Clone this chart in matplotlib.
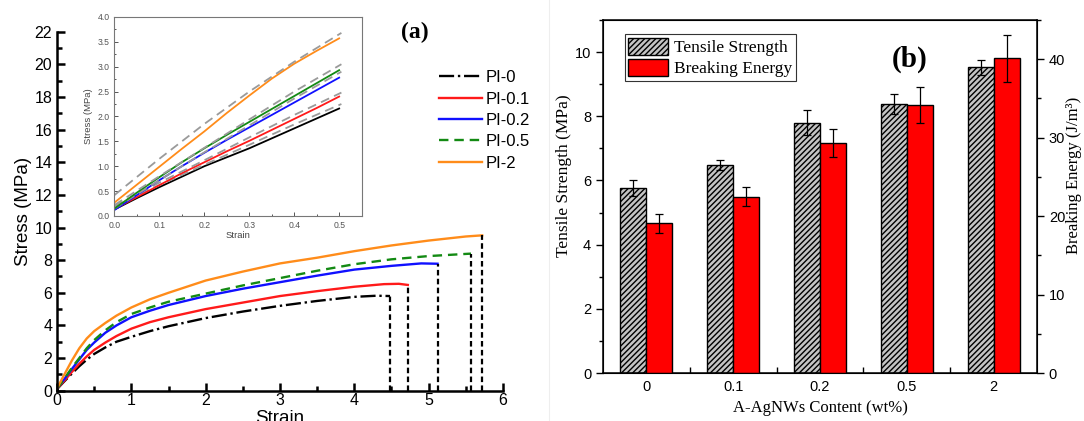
import matplotlib
matplotlib.use("Agg")
import numpy as np
from matplotlib import pyplot as plt
from matplotlib.lines import Line2D
from matplotlib.ticker import MultipleLocator, FixedLocator

# ---- (a) stress-strain curves ----
labels_a = ["PI-0", "PI-0.1", "PI-0.2", "PI-0.5", "PI-2"]

strain_pi0 = [0, 0.1, 0.2, 0.3, 0.4, 0.5, 0.65, 0.8, 1, 1.25, 1.5, 2, 2.5, 3, 3.5, 4, 4.3, 4.48]
stress_pi0 = [0.1, 0.58, 1.05, 1.5, 1.9, 2.25, 2.65, 3.0, 3.3, 3.65, 3.95, 4.45, 4.85, 5.2, 5.5, 5.75, 5.82, 5.8]

strain_pi01 = [0, 0.1, 0.2, 0.3, 0.4, 0.5, 0.65, 0.8, 1, 1.25, 1.5, 2, 2.5, 3, 3.5, 4, 4.4, 4.6, 4.72]
stress_pi01 = [0.1, 0.62, 1.15, 1.65, 2.1, 2.5, 2.95, 3.35, 3.8, 4.2, 4.5, 5.0, 5.4, 5.8, 6.1, 6.37, 6.53, 6.55, 6.48]

strain_pi02 = [0, 0.1, 0.2, 0.3, 0.4, 0.5, 0.65, 0.8, 1, 1.25, 1.5, 2, 2.5, 3, 3.5, 4, 4.5, 4.9, 5.12]
stress_pi02 = [0.12, 0.72, 1.33, 1.92, 2.5, 2.95, 3.55, 4.0, 4.5, 4.9, 5.25, 5.8, 6.25, 6.65, 7.05, 7.42, 7.65, 7.8, 7.78]

strain_pi05 = [0, 0.1, 0.2, 0.3, 0.4, 0.5, 0.65, 0.8, 1, 1.25, 1.5, 2, 2.5, 3, 3.5, 4, 4.5, 5, 5.57]
stress_pi05 = [0.12, 0.75, 1.4, 2.0, 2.6, 3.1, 3.7, 4.2, 4.7, 5.1, 5.45, 5.95, 6.45, 6.9, 7.35, 7.75, 8.05, 8.25, 8.4]

strain_pi2 = [0, 0.1, 0.2, 0.3, 0.4, 0.5, 0.65, 0.8, 1, 1.25, 1.5, 2, 2.5, 3, 3.5, 4, 4.5, 5, 5.5, 5.72]
stress_pi2 = [0.15, 1.0, 1.85, 2.6, 3.2, 3.65, 4.15, 4.6, 5.1, 5.6, 6.0, 6.75, 7.3, 7.8, 8.15, 8.55, 8.9, 9.2, 9.45, 9.52]

# inset (small strain)
inset_strain = [0, 0.05, 0.1, 0.15, 0.2, 0.25, 0.3, 0.35, 0.4, 0.45, 0.5]
inset_pi0 = [0.13, 0.36, 0.58, 0.79, 1.0, 1.18, 1.36, 1.56, 1.76, 1.96, 2.16]
inset_pi01 = [0.14, 0.38, 0.62, 0.86, 1.08, 1.3, 1.51, 1.73, 1.95, 2.17, 2.4]
inset_pi02 = [0.12, 0.42, 0.72, 1.0, 1.27, 1.53, 1.78, 2.03, 2.28, 2.53, 2.78]
inset_pi05 = [0.15, 0.47, 0.78, 1.08, 1.36, 1.63, 1.89, 2.15, 2.41, 2.67, 2.93]
inset_pi2 = [0.27, 0.63, 0.99, 1.35, 1.7, 2.07, 2.42, 2.76, 3.06, 3.32, 3.57]

fit_strain = [0, 0.1, 0.2, 0.3, 0.4, 0.505]
fit_pi0 = [0.2, 0.62, 1.03, 1.43, 1.84, 2.25]
fit_pi01 = [0.2, 0.67, 1.12, 1.58, 2.03, 2.48]
fit_pi02 = [0.15, 0.72, 1.28, 1.82, 2.36, 2.9]
fit_pi05 = [0.22, 0.8, 1.37, 1.94, 2.5, 3.05]
fit_pi2 = [0.42, 1.15, 1.85, 2.5, 3.1, 3.68]

# ---- (b) bar chart ----
content = ["0", "0.1", "0.2", "0.5", "2"]
tensile = [5.76, 6.48, 7.8, 8.37, 9.52]
tensile_err = [0.24, 0.15, 0.38, 0.31, 0.22]
energy = [19.1, 22.5, 29.3, 34.2, 40.1]
energy_err = [1.2, 1.15, 1.8, 2.3, 2.95]

colors = ["black", "#ff1a1a", "#1010ff", "#138a13", "#ff8c1a"]
styles = ["-.", "-", "-", (0, (4, 2.5)), "-"]

sans = ["Liberation Sans", "DejaVu Sans"]
serif = ["Liberation Serif", "DejaVu Serif"]
plt.rcParams["font.family"] = sans

fig = plt.figure(figsize=(10.84, 4.21), dpi=100)

# panel (a)
ax = fig.add_axes([0.0526, 0.072, 0.4114, 0.8527])
main_x = [strain_pi0, strain_pi01, strain_pi02, strain_pi05, strain_pi2]
main_y = [stress_pi0, stress_pi01, stress_pi02, stress_pi05, stress_pi2]
for xs, ys, c, ls, lab in zip(main_x, main_y, colors, styles, labels_a):
    ax.plot(xs, ys, color=c, linestyle=ls, lw=1.7, label=lab)
    ax.vlines(xs[-1], 0, ys[-1], colors="black", linestyles=(0, (2.5, 1.5)), lw=1.6)
ax.set_xlim(0, 6)
ax.set_ylim(0, 22)
ax.xaxis.set_major_locator(MultipleLocator(1))
ax.xaxis.set_minor_locator(MultipleLocator(0.5))
ax.yaxis.set_major_locator(MultipleLocator(2))
ax.yaxis.set_minor_locator(MultipleLocator(1))
ax.tick_params(which="both", direction="in", width=1.8, labelsize=11.5)
ax.tick_params(which="major", length=6)
ax.tick_params(which="minor", length=3.5)
ax.tick_params(axis="x", pad=2)
for s in ["top", "right"]:
    ax.spines[s].set_visible(False)
for s in ["left", "bottom"]:
    ax.spines[s].set_linewidth(1.8)
ax.set_ylabel("Stress (MPa)", fontsize=13.5, labelpad=2)
ax.set_xlabel("Strain", fontsize=13.5, labelpad=1)
ax.legend(loc="upper left", bbox_to_anchor=(0.397, 0.853), bbox_transform=fig.transFigure,
          frameon=False, fontsize=12, handlelength=2.6, handletextpad=0.2, labelspacing=0.38,
          borderpad=0)

fig.text(0.383, 0.922, "(a)", family=serif, fontweight="bold", fontsize=17,
         ha="center", va="center")

# inset
axi = fig.add_axes([0.1056, 0.487, 0.228, 0.4727])
inset_y = [inset_pi0, inset_pi01, inset_pi02, inset_pi05, inset_pi2]
fit_y = [fit_pi0, fit_pi01, fit_pi02, fit_pi05, fit_pi2]
for ys, fy, c in zip(inset_y, fit_y, colors):
    axi.plot(inset_strain, ys, color=c, lw=1.3)
    axi.plot(fit_strain, fy, color="#9a9a9a", lw=1.3, linestyle=(0, (5, 3)))
axi.set_xlim(0, 0.55)
axi.set_ylim(0, 4)
axi.xaxis.set_major_locator(MultipleLocator(0.1))
axi.xaxis.set_minor_locator(MultipleLocator(0.05))
axi.yaxis.set_major_locator(MultipleLocator(0.5))
axi.yaxis.set_minor_locator(MultipleLocator(0.25))
axi.xaxis.set_major_formatter(lambda v, p: f"{v:.1f}")
axi.yaxis.set_major_formatter(lambda v, p: f"{v:.1f}")
axi.tick_params(which="both", direction="in", labelsize=6.2, colors="#555555", width=0.7)
axi.tick_params(which="major", length=3)
axi.tick_params(which="minor", length=1.5)
for s in axi.spines.values():
    s.set_color("#777777")
    s.set_linewidth(0.8)
axi.set_xlabel("Strain", fontsize=6.8, color="#444444", labelpad=1)
axi.set_ylabel("Stress (MPa)", fontsize=6.8, color="#444444", labelpad=3)

# separator between panels
fig.add_artist(Line2D([0.506, 0.506], [0.0, 1.0], color="#eeeeee", lw=0.8))

# panel (b)
axb = fig.add_axes([0.5563, 0.114, 0.4004, 0.8385])
x = np.arange(len(content))
w = 0.30
axb.bar(x - w / 2, tensile, w, color="#c4c4c4", edgecolor="black", hatch="//////",
        lw=1.0, label="Tensile Strength", zorder=2)
axb.errorbar(x - w / 2, tensile, yerr=tensile_err, fmt="none", ecolor="black",
             elinewidth=0.9, capsize=3, capthick=0.9, zorder=3)
axb.set_xlim(-0.5, 4.5)
axb.set_ylim(0, 11)
axb.yaxis.set_major_locator(MultipleLocator(2))
axb.yaxis.set_minor_locator(MultipleLocator(1))
axb.set_xticks(x)
axb.set_xticklabels(content)
axb.xaxis.set_minor_locator(FixedLocator(x[:-1] + 0.5))
axb.tick_params(axis="x", which="major", length=0, labelsize=10.5, pad=5)
axb.tick_params(axis="x", which="minor", direction="in", length=4, width=1)
axb.tick_params(axis="y", which="both", direction="out", labelsize=10.5, width=1)
axb.tick_params(axis="y", which="major", length=5)
axb.tick_params(axis="y", which="minor", length=3)
for s in axb.spines.values():
    s.set_linewidth(1.1)
axb.set_ylabel("Tensile Strength (MPa)", family=serif, fontsize=12.5)
axb.yaxis.set_label_coords(-0.071, 0.56)
axb.set_xlabel("A-AgNWs Content (wt%)", family=serif, fontsize=12, labelpad=4)

axr = axb.twinx()
axr.bar(x + w / 2, energy, w, color="#ff0000", edgecolor="black", lw=1.0,
        label="Breaking Energy", zorder=2)
axr.errorbar(x + w / 2, energy, yerr=energy_err, fmt="none", ecolor="black",
             elinewidth=0.9, capsize=3, capthick=0.9, zorder=3)
axr.set_ylim(0, 45)
axr.yaxis.set_major_locator(MultipleLocator(10))
axr.yaxis.set_minor_locator(MultipleLocator(5))
axr.tick_params(axis="y", which="both", direction="out", labelsize=10.5, width=1)
axr.tick_params(axis="y", which="major", length=5)
axr.tick_params(axis="y", which="minor", length=3)
axr.set_ylabel("Breaking Energy (J/m³)", family=serif, fontsize=12)
axr.yaxis.set_label_coords(1.066, 0.56)

h1, l1 = axb.get_legend_handles_labels()
h2, l2 = axr.get_legend_handles_labels()
leg = axr.legend(h1 + h2, l1 + l2, loc="upper left", bbox_to_anchor=(0.05, 0.96),
                 prop={"family": serif, "size": 12.5}, fancybox=False, framealpha=1,
                 edgecolor="#333333", handlelength=2.3, handleheight=1.15,
                 handletextpad=0.35, labelspacing=0.15, borderpad=0.2, borderaxespad=0)
leg.get_frame().set_linewidth(0.8)

fig.text(0.839, 0.858, "(b)", family=serif, fontweight="bold", fontsize=21,
         ha="center", va="center")

fig.savefig("out.png", dpi=100)
